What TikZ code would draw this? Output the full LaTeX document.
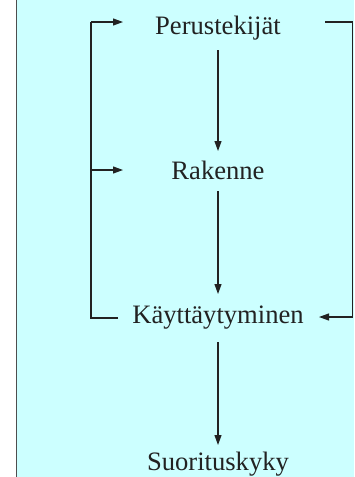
\documentclass[tikz,border=0pt]{standalone}
\usepackage{fontspec}
\setmainfont{Liberation Serif}
\usetikzlibrary{arrows.meta}
\definecolor{bgcyan}{HTML}{CCFFFF}
\definecolor{ink}{HTML}{222222}
\tikzset{
  lbl/.style={anchor=base, inner sep=0pt, text=ink, font=\fontsize{26.6}{30}\selectfont},
  conn/.style={draw=ink, line width=1.1pt},
  arr/.style={conn, -{Triangle[length=10pt,width=7pt]}}
}
\begin{document}
\begin{tikzpicture}[x=1pt,y=-1pt]
\useasboundingbox (0,0) rectangle (354,477);
\fill[bgcyan] (16.5,0) rectangle (354,477);
\draw[draw=ink!80, line width=1.5pt] (16.5,0) -- (16.5,477);
\node[lbl] (p) at (218,34) {Perustekijät};
\node[lbl] (r) at (218,179) {Rakenne};
\node[lbl] (k) at (218,323) {Käyttäytyminen};
\node[lbl] (s) at (218,470) {Suorituskyky};
% vertical chain
\coordinate (p1) at (218,50);
\coordinate (r0) at (218,151);
\coordinate (r1) at (218,191);
\coordinate (k0) at (218,294);
\coordinate (k1) at (218,342);
\coordinate (s0) at (218,445);
\draw[arr] (p1) -- (r0);
\draw[arr] (r1) -- (k0);
\draw[arr] (k1) -- (s0);
% left feedback
\coordinate (kl) at (118,318);
\coordinate (lb) at (91,318);
\coordinate (lt) at (91,22);
\coordinate (pl) at (123,22);
\coordinate (lm) at (91,170);
\coordinate (rl) at (123,170);
\draw[conn] (kl) -- (lb) -- (lt);
\draw[arr] (lt) -- (pl);
\draw[arr] (lm) -- (rl);
% right feedback
\coordinate (pr) at (325,22);
\coordinate (rt) at (352.5,22);
\coordinate (rb) at (352.5,317);
\coordinate (kr) at (319,317);
\draw[conn] (pr) -- (rt) -- (rb);
\draw[arr] (rb) -- (kr);
\end{tikzpicture}
\end{document}
